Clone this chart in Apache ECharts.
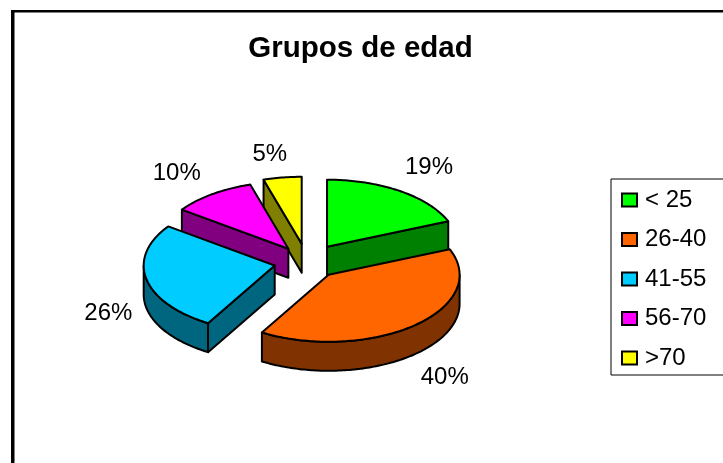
<!DOCTYPE html>
<html>
<head>
<meta charset="utf-8">
<script src="https://cdn.jsdelivr.net/npm/echarts@6/dist/echarts.min.js"></script>
<style>html,body{margin:0;padding:0;background:#fff}#c{width:723px;height:463px}</style>
</head>
<body>
<div id="c"></div>
<script>
const categories = ['< 25', '26-40', '41-55', '56-70', '>70'];
const values = [18.8, 39.7, 26.4, 10.4, 4.7];
const topColors = ['#00FF00', '#FF6600', '#00CCFF', '#FF00FF', '#FFFF00'];
const wallColors = ['#008000', '#803300', '#006680', '#800080', '#808000'];
const explodeBy = [36, 33, 33, 32, 36];
const labelReach = [188, 184, 170, 187, 179];
const labelTurn = [-1, 1.7, 0, -1, -1.8];

const FONT = '"Liberation Sans", Arial, sans-serif';
const CX = 307, CY = 262, RX = 131, RY = 67, DEPTH = 29, TILT = RY / RX;
const total = values.reduce((a, b) => a + b, 0);
const rad = d => d * Math.PI / 180;

function arc(ax, ay, from, to, shift) {
  const pts = [];
  const n = Math.max(2, Math.ceil(Math.abs(to - from)));
  for (let i = 0; i <= n; i++) {
    const t = rad(from + (to - from) * i / n);
    pts.push([ax + RX * Math.sin(t), ay - RY * Math.cos(t) + shift]);
  }
  return pts;
}
function face(points, fill) {
  return {
    type: 'polygon',
    shape: { points },
    style: { fill, stroke: '#000', lineWidth: 2, lineJoin: 'round' }
  };
}

let running = 0;
const slices = values.map((v, i) => {
  const from = running / total * 360;
  running += v;
  const to = running / total * 360;
  const mid = rad((from + to) / 2);
  const ax = CX + explodeBy[i] * Math.sin(mid);
  const ay = CY - explodeBy[i] * TILT * Math.cos(mid);
  return { from, to, mid, ax, ay };
});

const series = values.map((v, i) => {
  const s = slices[i];
  return {
    type: 'custom',
    name: categories[i],
    coordinateSystem: 'none',
    silent: true,
    animation: false,
    z: 2 + Math.round(s.ay),
    itemStyle: { color: topColors[i], borderColor: '#000', borderWidth: 2 },
    data: [v],
    renderItem: function () {
      const children = [];
      const wall = wallColors[i];
      const edgeWall = deg => {
        const t = rad(deg);
        const ex = s.ax + RX * Math.sin(t), ey = s.ay - RY * Math.cos(t);
        children.push(face([[s.ax, s.ay], [ex, ey], [ex, ey + DEPTH], [s.ax, s.ay + DEPTH]], wall));
      };
      if (Math.sin(rad(s.from)) < -1e-6) edgeWall(s.from);
      if (Math.sin(rad(s.to)) > 1e-6) edgeWall(s.to);
      const a = Math.max(s.from, 90), b = Math.min(s.to, 270);
      if (b > a) {
        const up = arc(s.ax, s.ay, a, b, 0);
        const down = arc(s.ax, s.ay, a, b, DEPTH).reverse();
        children.push(face(up.concat(down), wall));
      }
      children.push(face([[s.ax, s.ay]].concat(arc(s.ax, s.ay, s.from, s.to, 0)), topColors[i]));
      const midDeg = (s.from + s.to) / 2;
      const lower = midDeg > 90 && midDeg < 270;
      const lab = s.mid + rad(labelTurn[i]);
      children.push({
        type: 'text',
        x: s.ax + labelReach[i] * Math.sin(lab),
        y: s.ay - labelReach[i] * TILT * Math.cos(lab) + (lower ? DEPTH : 0) + 1,
        style: {
          text: Math.round(v / total * 100) + '%',
          fill: '#000',
          font: '24px ' + FONT,
          align: 'center',
          verticalAlign: 'middle'
        }
      });
      return { type: 'group', children };
    }
  };
});

const chart = echarts.init(document.getElementById('c'), null, { renderer: 'canvas' });
chart.setOption({
  animation: false,
  backgroundColor: '#fff',
  title: {
    text: 'Grupos de edad',
    left: 355.5,
    top: 29,
    textAlign: 'center',
    textStyle: { fontFamily: FONT, fontSize: 29.5, fontWeight: 'bold', color: '#000' }
  },
  legend: {
    data: categories,
    orient: 'vertical',
    left: 611,
    top: 179,
    padding: [9, 60, 5, 10],
    itemWidth: 15,
    itemHeight: 13,
    itemGap: 15.5,
    icon: 'rect',
    selectedMode: false,
    backgroundColor: '#fff',
    borderColor: '#000',
    borderWidth: 1,
    textStyle: { fontFamily: FONT, fontSize: 24, color: '#000', lineHeight: 24, padding: [0, 0, 0, 3] }
  },
  graphic: [
    { type: 'rect', silent: true, shape: { x: 11, y: 10, width: 3.5, height: 453 }, style: { fill: '#000' } },
    { type: 'rect', silent: true, shape: { x: 11, y: 10, width: 712, height: 2.5 }, style: { fill: '#000' } }
  ],
  series
});
</script>
</body>
</html>
